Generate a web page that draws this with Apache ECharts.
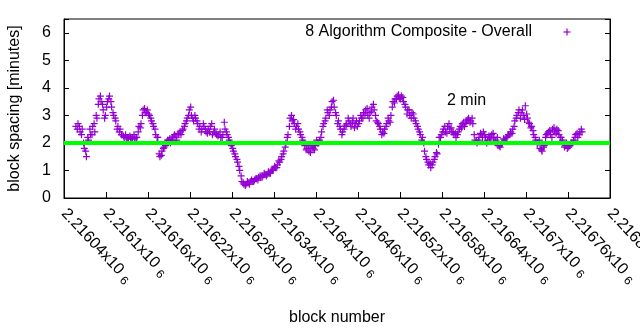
<!DOCTYPE html>
<html><head><meta charset="utf-8">
<script src="https://cdn.jsdelivr.net/npm/echarts@6/dist/echarts.min.js"></script>
<style>html,body{margin:0;padding:0;background:#fff}#c{width:640px;height:330px}</style>
</head><body><div id="c"></div>
<script>
// block numbers (x), first pass
const blocks = [
2216057,2216060,2216063,2216066,2216069,2216072,2216075,2216078,2216081,2216084,
2216087,2216090,2216093,2216096,2216099,2216102,2216105,2216108,2216111,2216114,
2216117,2216120,2216123,2216126,2216129,2216132,2216135,2216138,2216141,2216144,
2216147,2216150,2216153,2216156,2216159,2216162,2216165,2216168,2216171,2216174,
2216177,2216180,2216183,2216186,2216189,2216192,2216195,2216198,2216201,2216204,
2216207,2216210,2216213,2216216,2216219,2216222,2216225,2216228,2216231,2216234,
2216237,2216240,2216243,2216246,2216249,2216252,2216255,2216258,2216261,2216264,
2216267,2216270,2216273,2216276,2216279,2216282,2216285,2216288,2216291,2216294,
2216297,2216300,2216303,2216306,2216309,2216312,2216315,2216318,2216321,2216324,
2216327,2216330,2216333,2216336,2216339,2216342,2216345,2216348,2216351,2216354,
2216357,2216360,2216363,2216366,2216369,2216372,2216375,2216378,2216381,2216384,
2216387,2216390,2216393,2216396,2216399,2216402,2216405,2216408,2216411,2216414,
2216417,2216420,2216423,2216426,2216429,2216432,2216435,2216438,2216441,2216444,
2216447,2216450,2216453,2216456,2216459,2216462,2216465,2216468,2216471,2216474,
2216477,2216480,2216483,2216486,2216489,2216492,2216495,2216498,2216501,2216504,
2216507,2216510,2216513,2216516,2216519,2216522,2216525,2216528,2216531,2216534,
2216537,2216540,2216543,2216546,2216549,2216552,2216555,2216558,2216561,2216564,
2216567,2216570,2216573,2216576,2216579,2216582,2216585,2216588,2216591,2216594,
2216597,2216600,2216603,2216606,2216609,2216612,2216615,2216618,2216621,2216624,
2216627,2216630,2216633,2216636,2216639,2216642,2216645,2216648,2216651,2216654,
2216657,2216660,2216663,2216666,2216669,2216672,2216675,2216678,2216681,2216684,
2216687,2216690,2216693,2216696,2216699,2216702,2216705,2216708,2216711,2216714,
2216717,2216720,2216723,2216726,2216729,2216732,2216735,2216738,2216741,2216744,
2216747,2216750,2216753,2216756,2216759,2216762,2216765,2216768,2216771,2216774,
2216777,2216780
];
// block spacing in minutes (y), first pass
const minutes = [
2.6,2.7,2.4,2.5,1.8,1.5,2.1,2.3,2.6,2.4,
2.9,3.6,3.5,3.2,3.0,3.5,3.7,3.3,3.0,2.8,
2.6,2.5,2.3,2.2,2.2,2.15,2.2,2.2,2.15,2.2,
2.6,2.7,3.2,3.1,3.2,3.0,2.8,2.6,2.3,2.2,
1.5,1.7,1.85,2.0,2.1,2.0,2.2,2.3,2.1,2.3,
2.3,2.5,2.7,2.9,3.2,3.0,2.8,2.9,2.7,2.6,
2.5,2.6,2.4,2.5,2.6,2.3,2.5,2.3,2.3,2.2,
2.3,2.5,2.3,2.1,1.9,1.7,1.5,1.3,1.0,0.6,
0.5,0.5,0.55,0.6,0.6,0.65,0.7,0.75,0.75,0.8,
0.85,0.85,0.9,1.0,1.05,1.1,1.2,1.3,1.5,1.7,
2.0,2.3,2.9,2.8,2.7,2.6,2.5,2.3,2.1,1.9,
1.8,1.7,1.9,1.8,1.9,2.0,2.1,2.4,2.7,2.9,
3.1,3.2,3.5,3.3,3.0,2.8,2.5,2.4,2.6,2.7,
2.8,2.6,2.9,2.7,2.6,2.8,2.9,3.1,3.2,3.0,
3.1,3.3,3.2,2.8,2.7,2.5,2.4,2.5,2.7,2.8,
3.0,3.5,3.6,3.7,3.6,3.7,3.5,3.3,3.2,3.0,
3.1,2.9,2.7,2.5,2.3,2.2,1.7,1.4,1.2,1.1,
1.3,1.5,1.6,2.2,2.3,2.5,2.4,2.6,2.5,2.4,
2.3,2.2,2.4,2.6,2.7,2.6,2.8,2.9,2.8,2.7,
2.1,2.0,2.2,2.3,2.4,2.2,2.1,2.2,2.3,2.2,
2.1,1.9,1.85,2.0,2.1,2.2,2.3,2.4,2.5,2.8,
3.0,3.2,3.1,3.0,3.35,2.9,2.7,2.6,2.3,2.1,
2.0,1.8,1.7,1.9,2.3,2.4,2.3,2.5,2.4,2.5,
2.3,2.2,2.0,1.9,1.8,1.9,2.0,2.1,2.3,2.2,
2.4,2.4
];
// second pass of blocks (in-between blocks) and their spacing
const blocksB = [
2216059,2216062,2216065,2216068,2216071,2216074,2216077,2216080,2216083,2216086,
2216089,2216092,2216095,2216098,2216101,2216104,2216107,2216110,2216113,2216116,
2216119,2216122,2216125,2216128,2216131,2216134,2216137,2216140,2216143,2216146,
2216149,2216152,2216155,2216158,2216161,2216164,2216167,2216170,2216173,2216176,
2216179,2216182,2216185,2216188,2216191,2216194,2216197,2216200,2216203,2216206,
2216209,2216212,2216215,2216218,2216221,2216224,2216227,2216230,2216233,2216236,
2216239,2216242,2216245,2216248,2216251,2216254,2216257,2216260,2216263,2216266,
2216269,2216272,2216275,2216278,2216281,2216284,2216287,2216290,2216293,2216296,
2216299,2216302,2216305,2216308,2216311,2216314,2216317,2216320,2216323,2216326,
2216329,2216332,2216335,2216338,2216341,2216344,2216347,2216350,2216353,2216356,
2216359,2216362,2216365,2216368,2216371,2216374,2216377,2216380,2216383,2216386,
2216389,2216392,2216395,2216398,2216401,2216404,2216407,2216410,2216413,2216416,
2216419,2216422,2216425,2216428,2216431,2216434,2216437,2216440,2216443,2216446,
2216449,2216452,2216455,2216458,2216461,2216464,2216467,2216470,2216473,2216476,
2216479,2216482,2216485,2216488,2216491,2216494,2216497,2216500,2216503,2216506,
2216509,2216512,2216515,2216518,2216521,2216524,2216527,2216530,2216533,2216536,
2216539,2216542,2216545,2216548,2216551,2216554,2216557,2216560,2216563,2216566,
2216569,2216572,2216575,2216578,2216581,2216584,2216587,2216590,2216593,2216596,
2216599,2216602,2216605,2216608,2216611,2216614,2216617,2216620,2216623,2216626,
2216629,2216632,2216635,2216638,2216641,2216644,2216647,2216650,2216653,2216656,
2216659,2216662,2216665,2216668,2216671,2216674,2216677,2216680,2216683,2216686,
2216689,2216692,2216695,2216698,2216701,2216704,2216707,2216710,2216713,2216716,
2216719,2216722,2216725,2216728,2216731,2216734,2216737,2216740,2216743,2216746,
2216749,2216752,2216755,2216758,2216761,2216764,2216767,2216770,2216773,2216776,
2216779
];
const minutesB = [
2.5,2.6,2.3,2.0,1.7,2.2,2.5,2.3,2.7,3.0,
3.4,3.7,3.4,2.9,3.3,3.6,3.5,3.1,2.9,2.5,
2.4,2.3,2.25,2.3,2.2,2.25,2.15,2.3,2.2,2.4,
2.55,3.0,3.25,3.1,3.05,2.9,2.7,2.5,2.2,1.6,
1.55,1.8,1.9,2.1,2.15,2.1,2.25,2.2,2.35,2.4,
2.45,2.6,2.8,3.0,3.3,2.9,3.0,2.8,2.5,2.4,
2.7,2.5,2.35,2.4,2.7,2.4,2.35,2.25,2.4,2.2,
2.75,2.4,2.2,2.0,1.8,1.6,1.4,1.15,0.8,0.55,
0.45,0.6,0.5,0.65,0.6,0.7,0.65,0.8,0.75,0.9,
0.8,0.95,0.9,1.0,1.15,1.1,1.35,1.4,1.6,1.85,
2.2,2.6,3.0,2.85,2.5,2.7,2.4,2.2,2.0,1.75,
1.9,1.65,1.85,1.75,2.1,2.0,2.2,2.6,2.8,3.2,
3.0,3.3,3.55,3.1,2.7,2.6,2.3,2.5,2.65,2.9,
2.7,2.75,2.55,2.8,2.7,3.0,2.9,3.05,3.25,2.9,
3.15,3.4,3.0,2.75,2.6,2.3,2.35,2.6,2.9,2.75,
3.3,3.45,3.6,3.75,3.6,3.65,3.4,3.05,3.2,2.9,
3.05,2.8,2.6,2.4,2.1,2.0,1.5,1.3,1.25,1.2,
1.4,1.65,1.95,2.2,2.4,2.6,2.35,2.7,2.55,2.4,
2.35,2.3,2.5,2.55,2.75,2.7,2.85,2.75,2.9,2.3,
2.05,2.1,2.35,2.2,2.3,2.0,2.25,2.15,2.35,2.05,
2.2,1.9,1.95,2.15,2.05,2.25,2.3,2.35,2.6,2.9,
3.1,2.9,3.2,2.85,3.05,2.75,2.55,2.45,2.2,1.95,
2.1,1.75,1.85,2.2,2.35,2.45,2.2,2.55,2.35,2.45,
2.2,2.1,1.85,2.0,1.85,1.95,2.0,2.2,2.35,2.3,
2.5
];
const refLevel = 2;          // "2 min" reference line
const xRange = [2216040, 2216820];
const xStep = 60;
const yRange = [0, 6.5];
const seriesName = '8 Algorithm Composite - Overall';
const refLabel = '2 min';

const FONT = '"Liberation Sans", Arial, sans-serif';
const PLUS = 'path://M2.9,0h1.2v2.9h2.9v1.2h-2.9v2.9h-1.2v-2.9h-2.9v-1.2h2.9z';
const chart = echarts.init(document.getElementById('c'), null, {renderer: 'canvas'});

const pts = blocks.map((b, i) => [b, minutes[i]])
  .concat(blocksB.map((b, i) => [b, minutesB[i]]))
  .sort((a, b) => a[0] - b[0]);

chart.setOption({
  animation: false,
  backgroundColor: '#fff',
  textStyle: {fontFamily: FONT},
  grid: {left: 64, right: 30, top: 19, bottom: 132, outerBoundsMode: 'none', containLabel: false,
    show: true, borderColor: '#000', borderWidth: 1, backgroundColor: 'transparent'},
  xAxis: {
    type: 'value', min: xRange[0], max: xRange[1], interval: xStep,
    name: 'block number', nameLocation: 'middle', nameGap: 112,
    nameTextStyle: {fontSize: 16, color: '#000', fontFamily: FONT},
    axisLine: {show: true, lineStyle: {color: '#000', width: 1}},
    axisTick: {show: true, inside: true, length: 6, lineStyle: {color: '#000'}},
    splitLine: {show: false},
    axisLabel: {
      rotate: -47, margin: 13, color: '#000', fontFamily: FONT, hideOverlap: false,
      formatter: v => '{m|' + parseFloat((v / 1e6).toFixed(5)) + 'x10}{s|6}',
      rich: {
        m: {fontSize: 16, fontFamily: FONT, color: '#000', lineHeight: 20},
        s: {fontSize: 12, fontFamily: FONT, color: '#000', verticalAlign: 'bottom', lineHeight: 10, padding: [0, 0, 0, 5]}
      }
    }
  },
  yAxis: [{
    type: 'value', min: yRange[0], max: yRange[1], interval: 1, position: 'left',
    name: 'block spacing [minutes]', nameLocation: 'middle', nameGap: 41, nameRotate: 90,
    nameTextStyle: {fontSize: 16, color: '#000', fontFamily: FONT},
    axisLine: {show: true, lineStyle: {color: '#000', width: 1}},
    axisTick: {show: true, inside: true, length: 5, lineStyle: {color: '#000'}},
    splitLine: {show: false},
    axisLabel: {fontSize: 16, color: '#000', margin: 13, fontFamily: FONT,
      formatter: v => Number.isInteger(v) ? String(v) : ''}
  }, {
    type: 'value', min: yRange[0], max: yRange[1], interval: 1, position: 'right',
    axisLine: {show: true, lineStyle: {color: '#000', width: 1}},
    axisTick: {show: true, inside: true, length: 5, lineStyle: {color: '#000'}},
    splitLine: {show: false},
    axisLabel: {show: false}
  }],
  series: [{
    name: seriesName, type: 'scatter', data: pts,
    symbol: PLUS, symbolSize: 7,
    itemStyle: {color: '#9400d3', opacity: 1},
    z: 2
  }, {
    name: refLabel, type: 'line', data: [[xRange[0], refLevel], [xRange[1], refLevel]],
    symbol: 'none', lineStyle: {color: '#00ff00', width: 4}, z: 3
  }],
  graphic: [
    {type: 'text', x: 532, y: 32, z: 10, style: {text: seriesName, align: 'right', verticalAlign: 'middle', fontSize: 16, fontFamily: FONT, fill: '#000'}},
    {type: 'rect', x: 563.5, y: 31.4, z: 10, shape: {width: 7, height: 1.2}, style: {fill: '#9400d3'}},
    {type: 'rect', x: 566.4, y: 28.5, z: 10, shape: {width: 1.2, height: 7}, style: {fill: '#9400d3'}},
    {type: 'text', x: 447, y: 101, z: 10, style: {text: refLabel, align: 'left', verticalAlign: 'middle', fontSize: 16, fontFamily: FONT, fill: '#000'}}
  ]
});
</script>
</body></html>
